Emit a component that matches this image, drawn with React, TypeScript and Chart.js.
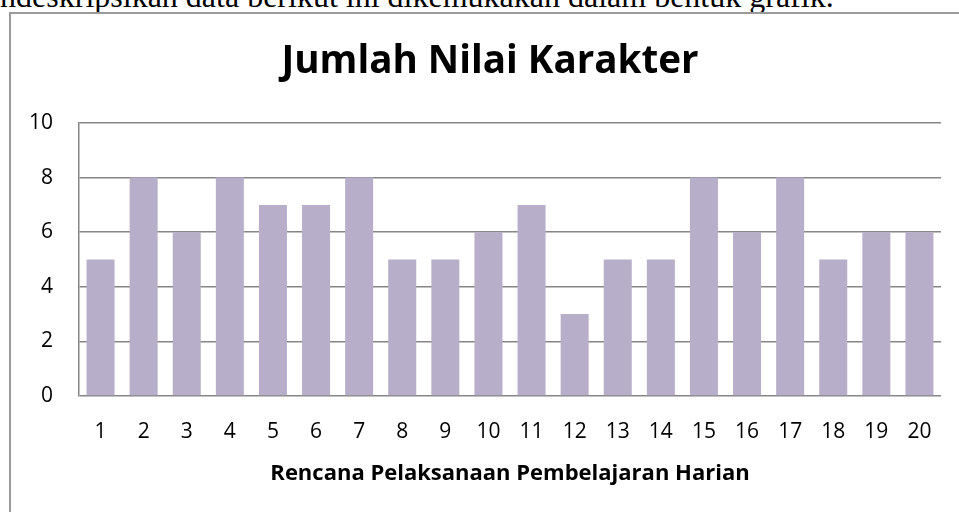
import React, { useEffect, useRef } from 'react';
import { Chart, registerables } from 'chart.js';

Chart.register(...registerables);

const categories = ['1', '2', '3', '4', '5', '6', '7', '8', '9', '10', '11', '12', '13', '14', '15', '16', '17', '18', '19', '20'];
const values = [5, 8, 6, 8, 7, 7, 8, 5, 5, 6, 7, 3, 5, 5, 8, 6, 8, 5, 6, 6];
const yTicks = [0, 2, 4, 6, 8, 10];
const chartTitle = 'Jumlah Nilai Karakter';
const xAxisTitle = 'Rencana Pelaksanaan Pembelajaran Harian';
const captionText = 'mendeskripsikan data berikut ini dikemukakan dalam bentuk grafik.';

const FONT = '"Open Sans", "Noto Sans", sans-serif';
const GRID = '#868686';

// The chart frame extends beyond the viewport on the right, so the title is
// centred on the whole frame rather than on the visible part.
const titleShift = {
  id: 'titleShift',
  afterLayout(chart: any) {
    const t = chart.titleBlock;
    if (t) {
      t.left = 30;
    }
  },
};

export default function App() {
  const ref = useRef<HTMLCanvasElement | null>(null);

  useEffect(() => {
    if (!ref.current) return;
    const chart = new Chart(ref.current, {
      type: 'bar',
      data: {
        labels: categories,
        datasets: [
          {
            data: values,
            backgroundColor: '#B7AEC9',
            borderWidth: 0,
            barPercentage: 0.65,
            categoryPercentage: 1,
          },
        ],
      },
      plugins: [titleShift],
      options: {
        responsive: false,
        animation: false,
        layout: { padding: { left: 0, right: 30, top: 0, bottom: 16 } },
        plugins: {
          legend: { display: false },
          tooltip: { enabled: false },
          title: {
            display: true,
            text: chartTitle,
            color: '#000',
            font: { family: FONT, size: 38.6, weight: 'bold', lineHeight: 1.2 },
            padding: { top: 27, bottom: 37.7 },
          },
        },
        scales: {
          x: {
            grid: { display: false, drawTicks: false },
            border: { display: false },
            ticks: {
              color: '#000',
              font: { family: FONT, size: 21, lineHeight: 1.2 },
              padding: 23.5,
              autoSkip: false,
              maxRotation: 0,
              minRotation: 0,
            },
            title: {
              display: true,
              text: xAxisTitle,
              color: '#000',
              font: { family: FONT, size: 22, weight: 'bold', lineHeight: 1.2 },
              padding: { top: 0, bottom: 9.5 },
            },
            afterFit: (scale: any) => {
              scale.height = 100;
            },
          },
          y: {
            min: yTicks[0],
            max: yTicks[yTicks.length - 1],
            grid: { color: GRID, lineWidth: 1.5, drawTicks: false },
            border: { display: true, color: GRID, width: 1.5 },
            ticks: {
              stepSize: yTicks[1] - yTicks[0],
              color: '#000',
              font: { family: FONT, size: 21, lineHeight: 1.2 },
              padding: 26,
            },
            afterFit: (scale: any) => {
              scale.width = 70;
            },
          },
        },
      },
    });
    return () => chart.destroy();
  }, []);

  return (
    <div style={{ position: 'fixed', left: 0, top: 0, width: 959, height: 512, overflow: 'hidden', background: '#fff' }}>
      <div
        style={{
          position: 'absolute',
          left: -39,
          top: -20,
          whiteSpace: 'nowrap',
          fontFamily: '"Liberation Serif", "Times New Roman", serif',
          fontSize: 32,
          lineHeight: '32px',
          color: '#000',
        }}
      >
        {captionText}
      </div>
      <div
        style={{
          position: 'absolute',
          left: 9,
          top: 12,
          width: 1100,
          height: 700,
          borderLeft: '2px solid #9a9a9a',
          borderTop: '2px solid #9a9a9a',
        }}
      />
      <canvas
        ref={ref}
        width={962}
        height={500}
        style={{ position: 'absolute', left: 9, top: 12, width: 962, height: 500 }}
      />
    </div>
  );
}
